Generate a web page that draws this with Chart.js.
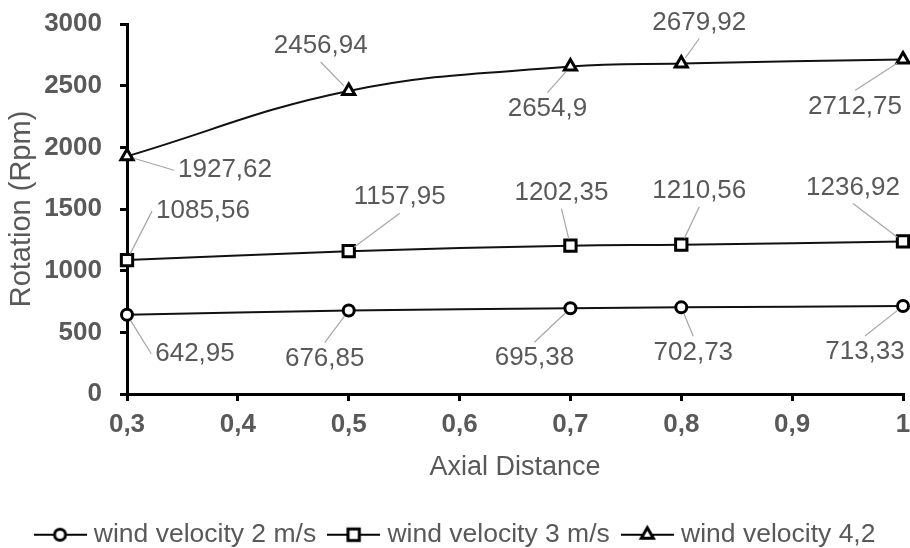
<!DOCTYPE html>
<html>
<head>
<meta charset="utf-8">
<script src="https://cdn.jsdelivr.net/npm/chart.js@4/dist/chart.umd.min.js"></script>
<style>
  html, body { margin: 0; padding: 0; background: #fff; }
  #wrap { width: 910px; height: 548px; }
</style>
</head>
<body>
<div id="wrap"><canvas id="chart" width="910" height="548"></canvas></div>
<script>
// --- Data ---
const axialDistance = [0.3, 0.5, 0.7, 0.8, 1];
const velocity2 = [642.95, 676.85, 695.38, 702.73, 713.33];
const velocity3 = [1085.56, 1157.95, 1202.35, 1210.56, 1236.92];
const velocity42 = [1927.62, 2456.94, 2654.9, 2679.92, 2712.75];
const seriesNames = ['wind velocity 2 m/s', 'wind velocity 3 m/s', 'wind velocity 4,2'];
const xTicks = [0.3, 0.4, 0.5, 0.6, 0.7, 0.8, 0.9, 1];
const yTicks = [0, 500, 1000, 1500, 2000, 2500, 3000];

// label placement (pixel offsets from each point)
const labelOffsets = [
    [[68, 39], [-24, 48], [-36, 50], [12, 45], [-38, 46]],
    [[76, -49], [51, -54], [-9, -53], [18, -54], [-50, -54]],
    [[98, 14], [-28, -45], [-23, 42], [18, -41], [-48, 47]]
];

const GRAY = '#595959';
const FONT = '"Liberation Sans", Arial, sans-serif';
Chart.defaults.font.family = FONT;

const fmt = v => String(Math.round(v * 100) / 100).replace('.', ',');
const toPoints = arr => arr.map((y, i) => ({ x: axialDistance[i], y }));

// --- Marker drawing (for legend icons) ---
function markerPath(g, style, r, x, y) {
    g.beginPath();
    if (style === 'circle') {
        g.arc(x, y, r, 0, Math.PI * 2);
    } else if (style === 'rect') {
        const s = Math.SQRT1_2 * r;
        g.rect(x - s, y - s, 2 * s, 2 * s);
    } else {
        g.moveTo(x, y - r);
        g.lineTo(x + Math.sin(2 * Math.PI / 3) * r, y + r / 2);
        g.lineTo(x - Math.sin(2 * Math.PI / 3) * r, y + r / 2);
        g.closePath();
    }
}

function legendIcon(style, r) {
    const c = document.createElement('canvas');
    c.width = 53; c.height = 22;
    const g = c.getContext('2d');
    g.strokeStyle = '#000';
    g.lineWidth = 2;
    g.beginPath(); g.moveTo(0, 11); g.lineTo(53, 11); g.stroke();
    markerPath(g, style, r, 26.5, 11);
    g.fillStyle = '#fff';
    g.fill();
    g.lineWidth = 3;
    g.stroke();
    return c;
}

const styles = [['circle', 5.5], ['rect', 8], ['triangle', 7]];
const icons = styles.map(([s, r]) => legendIcon(s, r));

// --- Value labels with leader lines ---
const valueLabels = {
    id: 'valueLabels',
    afterDatasetsDraw(chart) {
        const ctx = chart.ctx;
        ctx.save();
        ctx.font = '26px ' + FONT;
        ctx.textAlign = 'center';
        ctx.textBaseline = 'middle';
        chart.data.datasets.forEach((ds, di) => {
            const meta = chart.getDatasetMeta(di);
            meta.data.forEach((pt, i) => {
                const [dx, dy] = labelOffsets[di][i];
                const text = fmt(ds.data[i].y);
                const w = ctx.measureText(text).width;
                const cx = pt.x + dx, cy = pt.y + dy;
                let ax, ay;
                if (Math.abs(dx) > w / 2 + 10) {
                    ax = cx - Math.sign(dx) * (w / 2 + 4);
                    ay = cy;
                } else {
                    ax = cx;
                    ay = cy - Math.sign(dy) * 16;
                }
                const vx = ax - pt.x, vy = ay - pt.y, len = Math.hypot(vx, vy);
                ctx.strokeStyle = '#a6a6a6';
                ctx.lineWidth = 1.2;
                ctx.beginPath();
                ctx.moveTo(pt.x + vx / len * 7, pt.y + vy / len * 7);
                ctx.lineTo(ax, ay);
                ctx.stroke();
                ctx.fillStyle = GRAY;
                ctx.fillText(text, cx, cy);
            });
        });
        ctx.restore();
    }
};

const seriesData = [velocity2, velocity3, velocity42];

new Chart(document.getElementById('chart'), {
    type: 'line',
    data: {
        datasets: seriesData.map((vals, i) => ({
            label: seriesNames[i],
            data: toPoints(vals),
            borderColor: '#111',
            borderWidth: 2,
            tension: 0.4,
            pointStyle: styles[i][0],
            pointRadius: styles[i][1],
            pointBackgroundColor: '#fff',
            pointBorderColor: '#000',
            pointBorderWidth: 3,
            clip: false
        }))
    },
    options: {
        responsive: false,
        animation: false,
        layout: { autoPadding: false, padding: { top: 24, right: 7, left: 12, bottom: -10 } },
        plugins: {
            tooltip: { enabled: false },
            legend: {
                position: 'bottom',
                labels: {
                    usePointStyle: true,
                    pointStyleWidth: 41,
                    padding: 17,
                    color: GRAY,
                    font: { size: 26.5 },
                    generateLabels: chart => chart.data.datasets.map((ds, i) => ({
                        text: ds.label,
                        pointStyle: icons[i],
                        fillStyle: '#fff',
                        strokeStyle: '#000',
                        lineWidth: 0,
                        hidden: false,
                        datasetIndex: i,
                        fontColor: GRAY
                    }))
                }
            }
        },
        scales: {
            x: {
                type: 'linear',
                min: 0.3,
                max: 1,
                afterBuildTicks: s => { s.ticks = xTicks.map(v => ({ value: v })); },
                afterFit: s => { s.height = 110.5; s.paddingLeft = 0; s.paddingRight = 0; },
                ticks: {
                    color: GRAY,
                    padding: 8,
                    font: { size: 26, weight: 'bold' },
                    callback: v => fmt(v)
                },
                grid: { drawOnChartArea: false, drawTicks: true, tickLength: 7, color: '#000', lineWidth: 3 },
                border: { color: '#000', width: 3 },
                title: {
                    display: true,
                    text: 'Axial Distance',
                    color: GRAY,
                    font: { size: 27 },
                    padding: { top: 0, bottom: 21 }
                }
            },
            y: {
                min: 0,
                max: 3000,
                afterBuildTicks: s => { s.ticks = yTicks.map(v => ({ value: v })); },
                afterFit: s => { s.width = 115; s.paddingTop = 0; s.paddingBottom = 0; },
                ticks: {
                    color: GRAY,
                    padding: 18,
                    font: { size: 26, weight: 'bold' },
                    callback: v => String(v)
                },
                grid: { drawOnChartArea: false, drawTicks: true, tickLength: 7, color: '#000', lineWidth: 3 },
                border: { color: '#000', width: 3 },
                title: {
                    display: true,
                    text: 'Rotation (Rpm)',
                    color: GRAY,
                    font: { size: 29 },
                    padding: { top: -7, bottom: 0 }
                }
            }
        }
    },
    plugins: [valueLabels]
});
</script>
</body>
</html>
